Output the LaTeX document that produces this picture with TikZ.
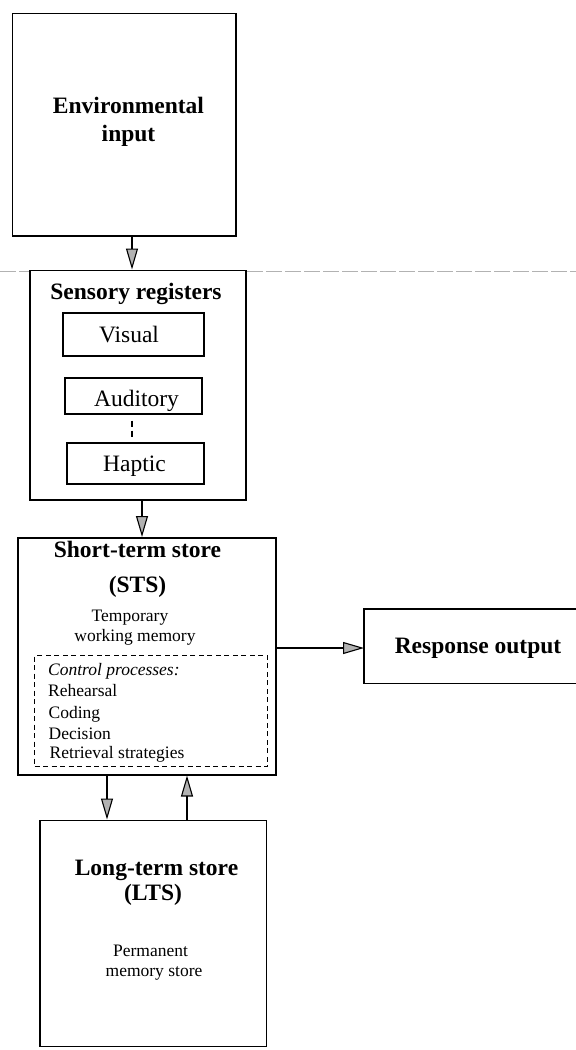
\documentclass[tikz,border=0pt]{standalone}
\usepackage{fontspec}
\setmainfont{Liberation Serif}
\usetikzlibrary{arrows.meta}

\begin{document}
\begin{tikzpicture}[x=1bp, y=-1bp,
  boxline/.style={line width=1.5bp},
  stage/.style={draw, boxline, inner sep=0pt, anchor=north west},
  hollow/.style={inner sep=0pt, anchor=north west},
  big/.style={anchor=base, inner sep=0pt, font=\bfseries\fontsize{23.5bp}{28bp}\selectfont},
  mid/.style={anchor=base, inner sep=0pt, font=\fontsize{23.5bp}{28bp}\selectfont},
  small/.style={anchor=base, inner sep=0pt, font=\fontsize{17.5bp}{21bp}\selectfont},
  item/.style={small, anchor=base west},
  arr/.style={line width=1.2bp, -{Triangle[length=21bp, width=12bp, fill=gray!60, line width=1.1bp]}}
]
\useasboundingbox (0,0) rectangle (576,1050);
\clip (0,0) rectangle (576,1050);

% faint rule running across the sheet
\draw[gray!60, line width=0.9bp, dash pattern=on 16bp off 3bp] (0,271) -- (576,271);

% boxes
\node[stage, fill=white, minimum width=223.5bp, minimum height=222.5bp] (env) at (11.5,12.5) {};
\node[stage, fill=white, minimum width=216bp, minimum height=229.5bp] (sens) at (29,269.5) {};
\node[stage, minimum width=141bp, minimum height=43bp] (vis) at (62,312) {};
\node[stage, minimum width=137bp, minimum height=36bp] (aud) at (64,377) {};
\node[stage, minimum width=137bp, minimum height=41bp] (hap) at (66,442) {};
\node[stage, minimum width=258bp, minimum height=237bp] (sts) at (17,537) {};
\node[draw, line width=1.3bp, dash pattern=on 5bp off 3.5bp, inner sep=0pt, anchor=north west,
      minimum width=233bp, minimum height=111bp] (ctrl) at (34,655) {};
\node[hollow, minimum width=222bp, minimum height=74bp] (resp) at (364,609) {};
\draw[boxline] (resp.north east) -- (resp.north west) -- (resp.south west) -- (resp.south east);
\node[stage, minimum width=226.5bp, minimum height=226bp] (lts) at (39,819.5) {};

% labels
\node[big] (envA) at (128.5,113) {Environmental};
\node[big] (envB) at (128.5,141) {input};
\node[big] (sensT) at (136,299) {Sensory registers};
\node[mid] (visT) at (129,342) {Visual};
\node[mid] (audT) at (136.5,406.5) {Auditory};
\node[mid] (hapT) at (134.5,471.5) {Haptic};
\node[big] (stsA) at (137.5,557) {Short-term store};
\node[big] (stsB) at (137.5,592) {(STS)};
\node[small] (stsC) at (130,621) {Temporary};
\node[small] (stsD) at (135,641.5) {working memory};
\node[item] (cp0) at (48,675) {\itshape Control processes:};
\node[item] (cp1) at (48,696.5) {Rehearsal};
\node[item] (cp2) at (48.5,718) {Coding};
\node[item] (cp3) at (48.5,739.5) {Decision};
\node[item] (cp4) at (49.5,758.5) {Retrieval strategies};
\node[big] (respT) at (478,653) {Response output};
\node[big] (ltsA) at (156.5,875) {Long-term store};
\node[big] (ltsB) at (153,900) {(LTS)};
\node[small] (ltsC) at (150.5,956.5) {Permanent};
\node[small] (ltsD) at (154,976.5) {memory store};

% connector columns
\coordinate (c1) at (132,0);
\coordinate (c2) at (142,0);
\coordinate (c3) at (132,0);
\coordinate (c4) at (107,0);
\coordinate (c5) at (187,0);
\coordinate (r1) at (0,648);

% connectors
\draw[arr] (env.south -| c1) -- (sens.north -| c1);
\draw[arr] (sens.south -| c2) -- (sts.north -| c2);
\draw[line width=1.1bp, dash pattern=on 6bp off 4bp, shorten <=6bp, shorten >=5bp]
  (aud.south -| c3) -- (hap.north -| c3);
\draw[arr] (sts.east |- r1) -- (resp.west |- r1);
\draw[arr] (sts.south -| c4) -- (lts.north -| c4);
\draw[arr] (lts.north -| c5) -- (sts.south -| c5);
\end{tikzpicture}
\end{document}
